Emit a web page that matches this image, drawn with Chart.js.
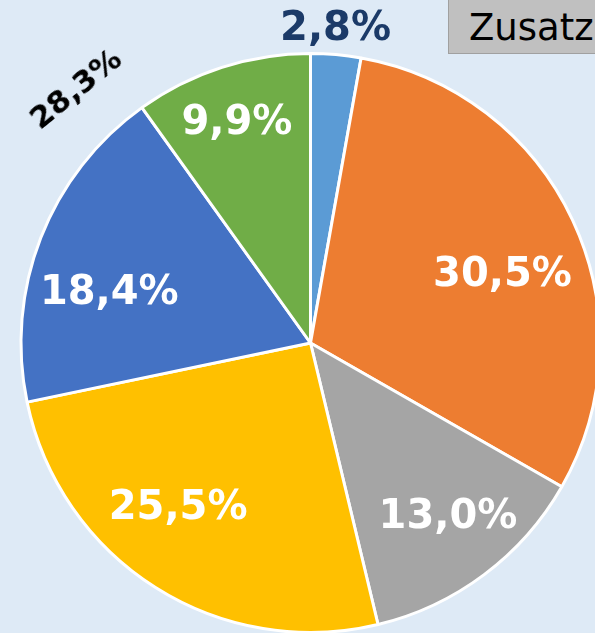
<!DOCTYPE html>
<html lang="de">
<head>
    <meta charset="UTF-8">
    <title>Anteile</title>
    <script src="https://cdn.jsdelivr.net/npm/chart.js"></script>
    <style>
        html, body {
            margin: 0;
            padding: 0;
            background: #deeaf6;
        }
        .wrap {
            position: relative;
            width: 595px;
            height: 633px;
            overflow: hidden;
            background: #deeaf6;
        }
        #pieChart {
            position: absolute;
            left: 0;
            top: 0;
        }
        .zusatz {
            position: absolute;
            left: 448px;
            top: -4px;
            width: 160px;
            height: 58px;
            background: #c0c0c0;
            border: 1px solid #a0a0a0;
            font-family: "DejaVu Sans", sans-serif;
            font-size: 37px;
            line-height: 56px;
            padding-left: 20px;
            padding-top: 3px;
            color: #000;
            box-sizing: border-box;
        }
        .summe {
            position: absolute;
            left: 75px;
            top: 88px;
            transform: translate(-50%, -50%) rotate(-39deg);
            font-family: "DejaVu Sans", sans-serif;
            font-weight: bold;
            font-size: 31px;
            color: #000;
            white-space: nowrap;
        }
    </style>
</head>
<body>
<div class="wrap">
    <canvas id="pieChart" width="602" height="634"></canvas>
    <div class="zusatz">Zusatz</div>
    <div class="summe" id="summe"></div>
</div>
<script>
    // Anteile im Uhrzeigersinn, beginnend oben
    const shares = [2.8, 30.5, 13.0, 25.5, 18.4, 9.9];
    const sliceColors = ['#5b9bd5', '#ed7d31', '#a5a5a5', '#ffc000', '#4472c4', '#70ad47'];
    const sumShares = [4, 5]; // blau + grün = 28,3 %

    const fmt = v => v.toFixed(1).replace('.', ',') + '%';

    document.getElementById('summe').textContent =
        fmt(sumShares.reduce((s, i) => s + shares[i], 0));

    // Beschriftung auf/neben den Segmenten
    const sliceLabels = {
        id: 'sliceLabels',
        afterDatasetsDraw(chart, args, opts) {
            const ctx = chart.ctx;
            const arcs = chart.getDatasetMeta(0).data;
            ctx.save();
            ctx.font = 'bold 40px "DejaVu Sans", sans-serif';
            ctx.textAlign = 'center';
            ctx.textBaseline = 'middle';
            arcs.forEach((arc, i) => {
                const p = arc.getProps(['x', 'y', 'startAngle', 'endAngle', 'outerRadius'], true);
                const mid = (p.startAngle + p.endAngle) / 2 + opts.shift[i] * Math.PI / 180;
                const r = p.outerRadius * opts.radius[i];
                ctx.fillStyle = opts.colors[i];
                ctx.fillText(fmt(shares[i]), p.x + Math.cos(mid) * r, p.y + Math.sin(mid) * r + 3);
            });
            ctx.restore();
        }
    };

    new Chart(document.getElementById('pieChart'), {
        type: 'pie',
        data: {
            labels: shares.map(fmt),
            datasets: [{
                data: shares,
                backgroundColor: sliceColors,
                borderColor: '#ffffff',
                borderWidth: 3
            }]
        },
        options: {
            responsive: false,
            animation: false,
            devicePixelRatio: 1,
            layout: {
                padding: { left: 19, top: 52, right: 0, bottom: 0 }
            },
            plugins: {
                legend: { display: false },
                tooltip: { enabled: false },
                sliceLabels: {
                    radius: [1.095, 0.706, 0.76, 0.724, 0.718, 0.81],
                    shift: [-0.5, 5, -1.8, 6.8, -6.8, -0.5],
                    colors: ['#1b3a68', '#fff', '#fff', '#fff', '#fff', '#fff']
                }
            }
        },
        plugins: [sliceLabels]
    });
</script>
</body>
</html>
